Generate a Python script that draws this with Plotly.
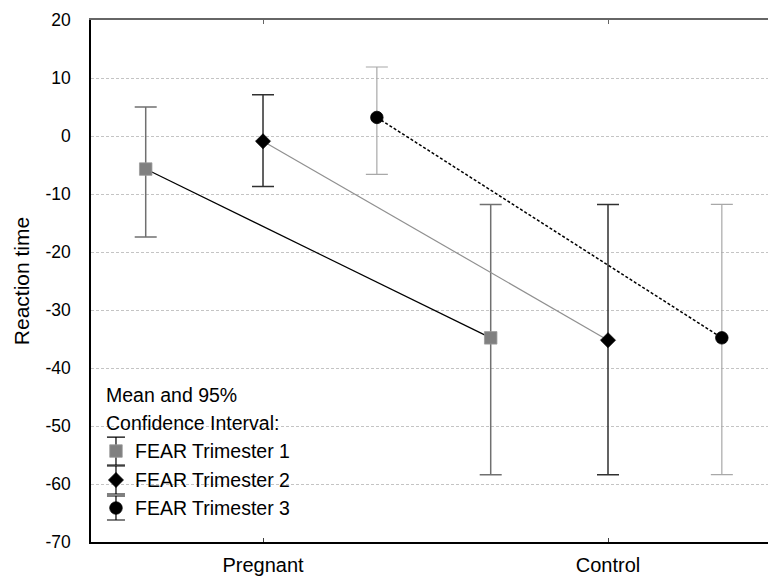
import plotly.graph_objects as go

categories = ["Pregnant", "Control"]
series_names = ["FEAR Trimester 1", "FEAR Trimester 2", "FEAR Trimester 3"]

t1_mean = [-5.7, -34.8]
t1_upper = [5.0, -11.8]
t1_lower = [-17.4, -58.4]

t2_mean = [-0.9, -35.2]
t2_upper = [7.1, -11.8]
t2_lower = [-8.7, -58.4]

t3_mean = [3.2, -34.8]
t3_upper = [11.9, -11.8]
t3_lower = [-6.6, -58.4]

y_ticks = [-70, -60, -50, -40, -30, -20, -10, 0, 10, 20]

FONT = "Liberation Sans, Arial, sans-serif"
offsets = [-0.34, 0.0, 0.33]

styles = [
    dict(symbol="square", size=12.5, color="#808080", mline="#9a9a9a",
         line=dict(color="#000000", width=1.2), err="#707070", errw=1.5),
    dict(symbol="diamond", size=11.5, color="#000000", mline="#000000",
         line=dict(color="#909090", width=1.2), err="#303030", errw=1.5),
    dict(symbol="circle", size=12.5, color="#000000", mline="#000000",
         line=dict(color="#000000", width=1.5, dash="3px,2px"), err="#a8a8a8", errw=1.2),
]

data = [(t1_mean, t1_upper, t1_lower), (t2_mean, t2_upper, t2_lower), (t3_mean, t3_upper, t3_lower)]

fig = go.Figure()
for i, ((m, up, lo), st) in enumerate(zip(data, styles)):
    xs = [k + offsets[i] for k in range(len(categories))]
    fig.add_trace(go.Scatter(
        x=xs, y=m, mode="lines+markers", name=series_names[i], showlegend=False,
        line=st["line"],
        marker=dict(symbol=st["symbol"], size=st["size"], color=st["color"],
                    line=dict(color=st["mline"], width=0.8)),
        error_y=dict(type="data", symmetric=False,
                     array=[u - v for u, v in zip(up, m)],
                     arrayminus=[v - l for v, l in zip(m, lo)],
                     color=st["err"], thickness=st["errw"], width=11),
    ))

# Manual legend (overlay axes in plot-area fractions)
leg_y = [0.1743, 0.1188, 0.0651]
leg_half = [0.0268, 0.0268, 0.023]
for i, st in enumerate(styles):
    fig.add_trace(go.Scatter(
        x=[0.0369], y=[leg_y[i]], xaxis="x3", yaxis="y3", mode="markers",
        showlegend=False, hoverinfo="skip",
        marker=dict(symbol=st["symbol"], size=st["size"], color=st["color"],
                    line=dict(color=st["mline"], width=0.8)),
        error_y=dict(type="data", array=[leg_half[i]], color="#000000", thickness=1.2, width=9),
    ))

annotations = [
    dict(text="Mean and 95%", x=0.0192, y=0.2816),
    dict(text="Confidence Interval:", x=0.0192, y=0.228),
]
for i, nm in enumerate(series_names):
    annotations.append(dict(text=nm, x=0.062, y=leg_y[i]))
for a in annotations:
    a.update(xref="paper", yref="paper", xanchor="left", yanchor="middle",
             showarrow=False, font=dict(family=FONT, size=19.5, color="#000000"))

xr = [-0.4986, 1.4638]
fig.update_layout(
    width=768, height=576,
    margin=dict(l=91, r=0, t=20, b=34),
    paper_bgcolor="white", plot_bgcolor="white",
    font=dict(family=FONT, size=17, color="#000000"),
    showlegend=False,
    annotations=annotations,
    xaxis=dict(range=xr, tickvals=list(range(len(categories))), ticktext=categories,
               showgrid=False, zeroline=False, showline=True, linecolor="#000000", linewidth=1.5,
               ticks="inside", ticklen=4, tickcolor="#404040", tickfont=dict(size=20),
               ticklabelstandoff=4),
    xaxis2=dict(range=xr, tickvals=list(range(len(categories))), overlaying="x", anchor="y",
                side="top", showticklabels=False, showgrid=False, zeroline=False,
                showline=True, linecolor="#666666", linewidth=2,
                ticks="inside", ticklen=4, tickcolor="#666666"),
    yaxis=dict(range=[-70, 20], tickvals=y_ticks, ticktext=[str(v) for v in y_ticks],
               showgrid=True, gridcolor="#c4c4c4",
               griddash="3px,2px", gridwidth=1, zeroline=False, showline=True,
               linecolor="#000000", linewidth=1.5, ticks="outside", ticklen=15,
               tickcolor="rgba(0,0,0,0)", tickfont=dict(size=17.5),
               title=dict(text="Reaction time", font=dict(size=21), standoff=10)),
    xaxis3=dict(range=[0, 1], overlaying="x", anchor="y3", visible=False, fixedrange=True),
    yaxis3=dict(range=[0, 1], overlaying="y", anchor="x3", visible=False, fixedrange=True),
)
# dummy trace so top axis renders
fig.add_trace(go.Scatter(x=[None], y=[None], xaxis="x2", yaxis="y", showlegend=False))

fig.write_html("out.html")
